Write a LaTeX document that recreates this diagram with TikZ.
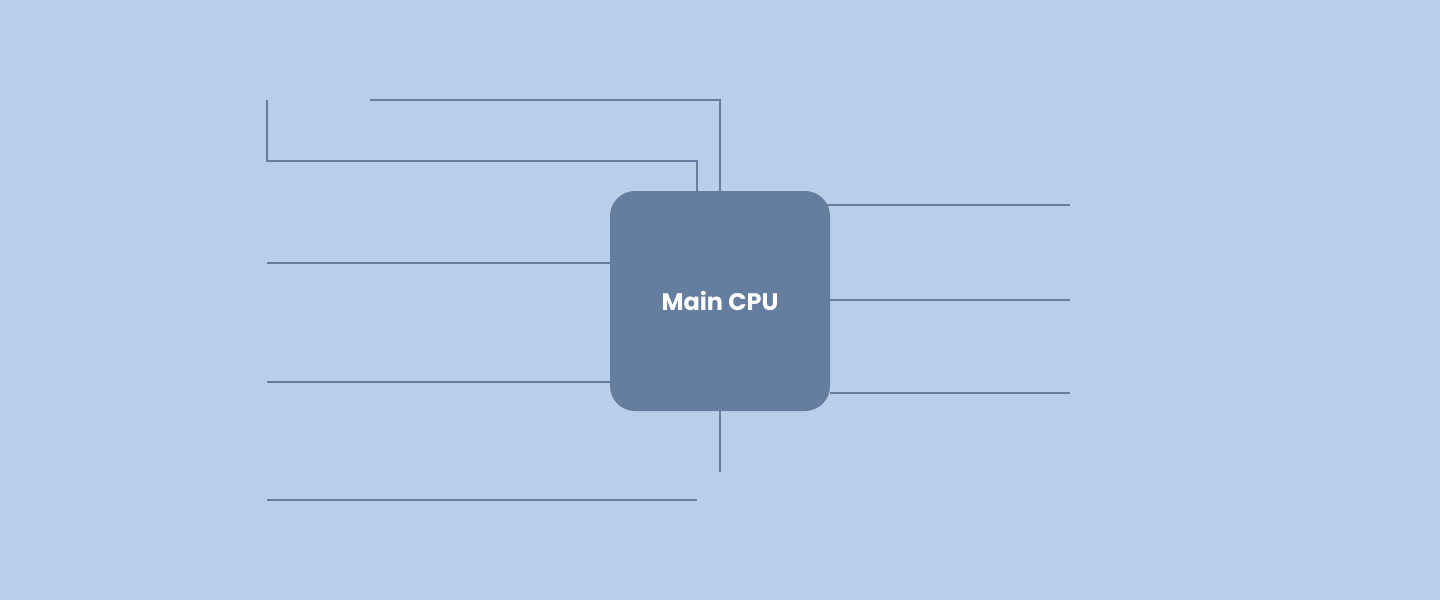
\documentclass[tikz,border=0pt]{standalone}
\usepackage{fontspec}
\setmainfont{Poppins}
\usepackage{tikz}

\definecolor{bgblue}{HTML}{B9CEEB}
\definecolor{chipblue}{HTML}{657E9F}

\begin{document}
\begin{tikzpicture}[x=1pt,y=-1pt,
    wire/.style={draw=chipblue,line width=2pt},
    chip/.style={fill=chipblue,rounded corners=25pt,minimum width=220pt,minimum height=220pt,
        text=white,font=\fontsize{24}{28}\selectfont\bfseries,inner sep=0pt}]
        \fill[bgblue] (0,0) rectangle (1440,600);
        \useasboundingbox (0,0) rectangle (1440,600);

        \node[chip] (cpu) at (720,301) {Main CPU};

        \coordinate (T1) at (370,100);
        \coordinate (T2) at (267,100);
        \coordinate (K2) at (697,161);
        \coordinate (L1) at (267,263);
        \coordinate (L2) at (267,382);
        \coordinate (B1) at (720,472);
        \coordinate (B2a) at (267,500);
        \coordinate (B2b) at (697,500);
        \coordinate (R1) at (1070,205);
        \coordinate (R2) at (1070,300);
        \coordinate (R3) at (1070,393);

        \draw[wire] (T1) -- (T1 -| cpu.north) -- (cpu.north);
        \draw[wire] (T2) |- (K2) -- (K2 |- cpu.north);
        \draw[wire] (L1) -- (L1 -| cpu.west);
        \draw[wire] (L2) -- (L2 -| cpu.west);
        \draw[wire] (cpu.south) -- (B1);
        \draw[wire] (B2a) -- (B2b);
        \draw[wire,shorten >=-3pt] (R1) -- (R1 -| cpu.east);
        \draw[wire] (R2) -- (R2 -| cpu.east);
        \draw[wire] (R3) -- (R3 -| cpu.east);
    \end{tikzpicture}
\end{document}
